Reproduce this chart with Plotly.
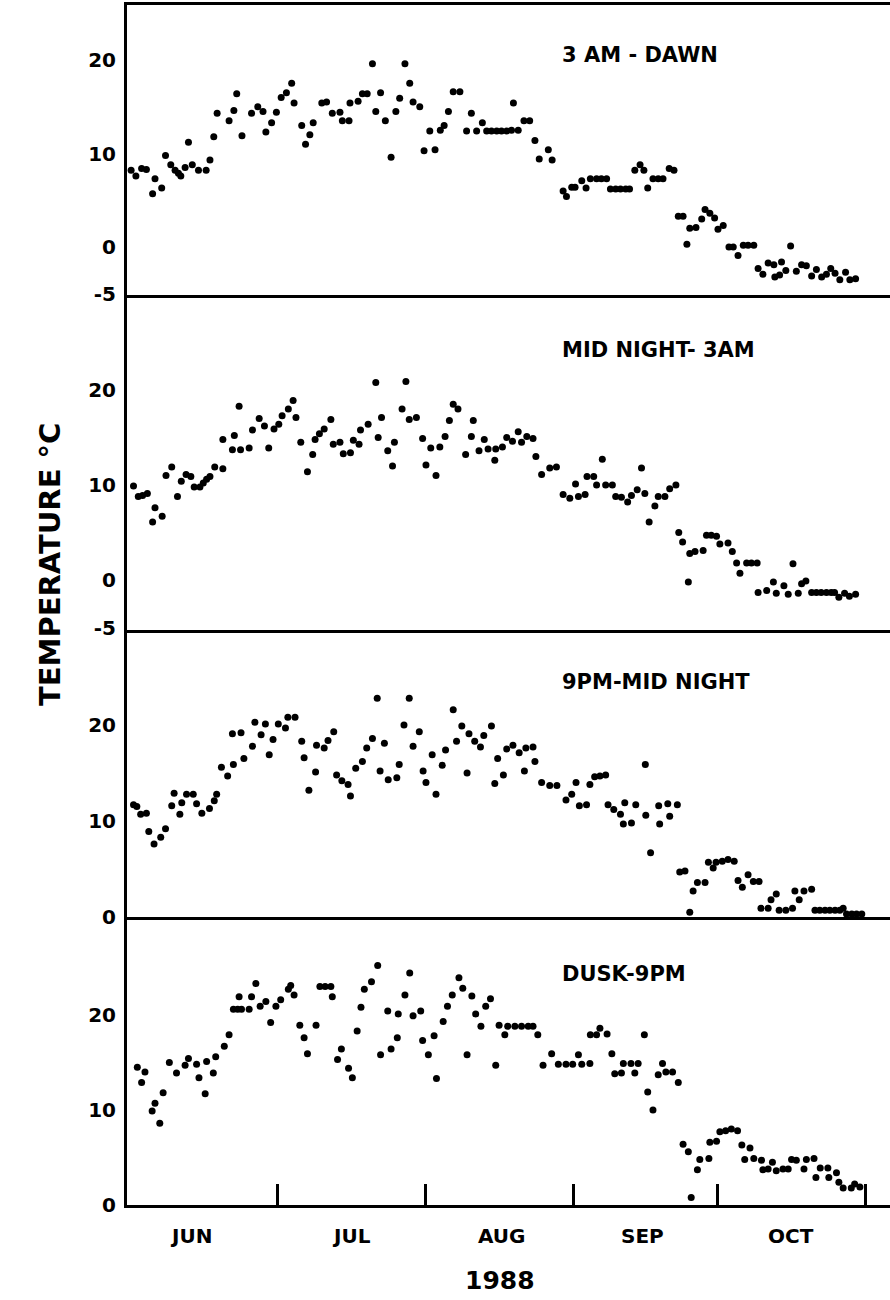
import plotly.graph_objects as go
from plotly.subplots import make_subplots

# ---- data: day = days after 1 June 1988, temp in degrees C ----
p1_day = [-0.6, 0.4, 1.6, 2.6, 3.9, 4.4, 5.8, 6.6, 7.7, 8.6, 9.3, 9.8, 10.7, 11.4, 12.2, 13.5, 15.1, 15.9, 16.7, 17.4,
          19.9, 20.9, 21.5, 22.6, 24.6, 25.9, 27.0, 27.6, 28.8, 29.8, 30.8, 31.9, 33.0, 33.5, 35.1, 35.9, 36.8, 37.5,
          39.3, 40.3, 41.5, 43.1, 43.6, 45.0, 45.2, 46.9, 47.8, 48.8, 49.9, 50.6, 51.6, 52.6, 53.8, 54.8, 55.6, 56.7,
          57.7, 58.4, 59.8, 60.7, 61.9, 63.0, 64.1, 64.9, 65.8, 66.8, 68.2, 69.6, 70.6, 71.7, 72.9, 73.8, 74.8, 75.9,
          76.9, 78.0, 79.0, 79.4, 80.4, 81.6, 82.8, 83.9, 84.8, 86.7, 87.5, 89.8, 90.5, 91.6, 92.3, 93.7, 94.6, 95.5,
          96.8, 97.8, 98.9, 99.7, 100.8, 101.8, 102.9, 103.7, 104.8, 105.9, 106.7, 107.5, 108.6, 109.7, 110.7, 112.0,
          113.0, 113.9, 114.9, 115.7, 116.3, 117.6, 118.8, 119.5, 120.5, 121.5, 122.2, 123.3, 124.5, 125.4, 126.4,
          127.5, 128.5, 129.7, 130.6, 131.6, 132.7, 133.9, 134.1, 135.1, 135.5, 136.4, 137.4, 138.6, 139.7, 140.7,
          141.8, 142.8, 143.9, 144.9, 145.8, 146.7, 147.7, 148.9, 149.8, 151.0]
p1_temp = [8.2, 7.6, 8.4, 8.3, 5.7, 7.3, 6.3, 9.8, 8.8, 8.2, 7.9, 7.6, 8.5, 11.2, 8.8, 8.2, 8.2, 9.3, 11.8, 14.3,
           13.5, 14.6, 16.4, 11.9, 14.3, 15.0, 14.5, 12.3, 13.3, 14.4, 16.0, 16.5, 17.5, 15.4, 13.0, 11.0, 12.0, 13.3,
           15.4, 15.5, 14.3, 14.4, 13.5, 13.5, 15.4, 15.6, 16.4, 16.4, 19.6, 14.5, 16.5, 13.5, 9.6, 14.5, 15.9, 19.6,
           17.5, 15.5, 15.0, 10.3, 12.4, 10.4, 12.5, 13.0, 14.5, 16.6, 16.6, 12.4, 14.3, 12.4, 13.3, 12.4, 12.4, 12.4,
           12.4, 12.4, 12.5, 15.4, 12.5, 13.5, 13.5, 11.4, 9.4, 10.4, 9.3, 6.0, 5.4, 6.4, 6.4, 7.1, 6.3, 7.3,
           7.3, 7.3, 7.3, 6.2, 6.2, 6.2, 6.2, 6.2, 8.2, 8.8, 8.2, 6.3, 7.3, 7.3, 7.3, 8.4,
           8.2, 3.3, 3.3, 0.3, 2.0, 2.1, 3.0, 4.0, 3.6, 3.1, 1.9, 2.3, 0.0, 0.0, -0.9,
           0.2, 0.2, 0.2, -2.3, -2.9, -1.7, -1.9, -3.2, -3.0, -1.6, -2.5, 0.1, -2.6, -1.9, -2.0,
           -3.1, -2.4, -3.2, -2.9, -2.3, -2.8, -3.5, -2.7, -3.5, -3.4]

p2_day = [-0.1, 0.9, 1.8, 2.8, 3.9, 4.4, 5.9, 6.7, 7.9, 9.1, 9.9, 10.9, 11.9, 12.6, 13.8, 14.5, 15.2, 15.9, 16.9, 18.6,
          18.6, 20.6, 21.0, 22.0, 22.3, 24.1, 24.8, 26.2, 27.3, 28.2, 29.3, 30.3, 31.0, 32.3, 33.3, 33.9, 34.9, 36.3,
          37.4, 37.9, 38.8, 39.8, 41.2, 41.7, 43.1, 43.8, 45.3, 45.9, 47.1, 47.4, 49.0, 50.6, 51.1, 51.8, 53.1, 54.1,
          54.5, 56.1, 56.9, 57.6, 59.1, 60.4, 61.1, 62.1, 63.2, 64.0, 65.1, 66.0, 66.8, 67.8, 69.4, 70.6, 71.0, 72.2,
          73.3, 74.1, 75.5, 75.7, 77.1, 78.0, 79.2, 80.4, 81.1, 82.2, 83.5, 84.1, 85.3, 87.0, 88.4, 89.8, 91.2, 92.4,
          93.0, 94.4, 94.8, 96.2, 96.8, 98.0, 98.7, 100.1, 100.8, 102.0, 103.3, 104.1, 105.3, 106.2, 106.9, 107.8,
          109.0, 109.7, 111.1, 112.1, 113.4, 114.0, 114.8, 116.0, 116.3, 117.4, 119.1, 119.8, 120.8, 121.9, 122.6,
          124.3, 125.2, 126.1, 126.8, 128.2, 129.2, 130.4, 130.6, 132.4, 133.8, 134.4, 136.0, 136.9, 137.9, 139.0,
          139.7, 140.6, 141.8, 142.8, 143.8, 144.9, 145.9, 146.6, 147.5, 148.7, 149.7, 151.0]
p2_temp = [9.9, 8.8, 8.9, 9.1, 6.1, 7.6, 6.7, 11.0, 11.9, 8.8, 10.4, 11.1, 10.9, 9.8, 9.8, 10.2, 10.6, 10.9, 11.9, 11.7,
           14.8, 13.7, 15.2, 18.3, 13.7, 13.9, 15.8, 17.0, 16.2, 13.9, 15.9, 16.4, 17.3, 18.0, 18.9, 17.1, 14.5, 11.4,
           13.2, 14.8, 15.4, 15.9, 16.9, 14.3, 14.5, 13.3, 13.4, 14.7, 14.3, 15.8, 16.4, 20.8, 15.0, 17.1, 13.6, 12.0,
           14.5, 18.0, 20.9, 16.9, 17.1, 14.9, 12.1, 13.9, 11.0, 14.0, 15.1, 16.8, 18.5, 18.0, 13.2, 15.1, 16.8, 13.6,
           14.8, 13.8, 12.6, 13.8, 14.0, 15.0, 14.6, 15.6, 14.5, 15.1, 14.9, 13.0, 11.1, 11.8, 11.9, 9.0, 8.6, 10.1,
           8.8, 9.0, 10.9, 10.9, 10.0, 12.7, 10.0, 10.0, 8.8, 8.7, 8.2, 8.9, 9.5, 11.8, 9.1, 6.1,
           7.8, 8.8, 8.8, 9.6, 10.0, 5.0, 4.0, -0.2, 2.8, 3.0, 3.1, 4.7, 4.7, 4.6, 3.8,
           3.9, 3.0, 1.8, 0.7, 1.8, 1.8, 1.8, -1.3, -1.1, -0.2, -1.4, -0.6, -1.5, 1.7, -1.4,
           -0.4, -0.1, -1.3, -1.3, -1.3, -1.3, -1.3, -1.3, -1.8, -1.4, -1.7, -1.5]

p3_day = [-0.1, 0.6, 1.4, 2.6, 3.1, 4.2, 5.6, 6.6, 7.9, 8.4, 9.6, 10.0, 11.0, 12.4, 13.1, 14.2, 15.8, 16.8, 17.3, 18.3,
          19.6, 20.8, 20.6, 22.4, 23.0, 24.8, 25.3, 26.6, 27.5, 28.3, 29.1, 30.2, 31.7, 32.2, 33.7, 35.1, 35.6, 36.6,
          38.0, 38.2, 39.8, 40.6, 41.8, 42.4, 43.5, 44.8, 45.3, 46.4, 47.8, 48.7, 49.9, 50.9, 51.5, 52.4, 53.2, 55.0,
          55.5, 56.5, 57.6, 58.4, 59.7, 60.5, 61.1, 62.4, 63.2, 64.5, 65.2, 66.8, 67.5, 68.6, 69.7, 70.1, 71.3, 72.5,
          73.2, 74.8, 75.5, 76.1, 77.3, 78.0, 79.3, 80.6, 81.7, 82.0, 83.5, 83.9, 85.3, 87.0, 88.5, 90.4, 91.6, 92.5,
          93.2, 94.7, 95.4, 96.4, 97.5, 98.7, 99.2, 100.4, 101.8, 102.4, 102.7, 104.1, 105.0, 107.0, 107.1, 108.1,
          109.8, 110.0, 111.7, 112.1, 113.7, 114.2, 115.3, 116.3, 117.0, 117.9, 119.5, 120.2, 121.2, 121.8, 123.1,
          124.3, 125.6, 126.4, 127.3, 128.5, 129.6, 130.8, 131.2, 132.7, 133.3, 134.4, 135.0, 136.4, 137.8, 138.3,
          139.2, 140.2, 141.8, 142.5, 143.5, 144.6, 145.6, 146.7, 147.7, 148.4, 149.1, 150.2, 151.2, 152.3]
p3_temp = [11.7, 11.5, 10.7, 10.8, 8.9, 7.6, 8.3, 9.2, 11.6, 12.9, 10.7, 11.9, 12.8, 12.8, 11.8, 10.8, 11.3, 12.1, 12.8, 15.6,
           14.7, 15.9, 19.1, 19.2, 16.5, 17.8, 20.3, 19.0, 20.1, 16.9, 18.5, 20.1, 19.7, 20.8, 20.8, 18.3, 16.6, 13.2,
           15.1, 17.9, 17.6, 18.4, 19.3, 14.8, 14.2, 13.8, 12.6, 15.5, 16.2, 17.6, 18.6, 22.8, 15.2, 18.1, 14.3, 14.5,
           15.9, 20.0, 22.8, 17.8, 19.3, 15.2, 14.0, 16.9, 12.8, 15.8, 17.4, 21.6, 18.3, 19.9, 15.0, 19.1, 18.3, 17.7,
           18.9, 19.9, 13.9, 16.5, 14.8, 17.5, 17.9, 17.1, 15.2, 17.6, 17.7, 16.2, 14.0, 13.7, 13.7, 12.2, 12.8, 14.0,
           11.6, 11.7, 13.8, 14.6, 14.7, 14.8, 11.7, 11.2, 10.7, 9.7, 11.9, 9.8, 11.7, 15.9, 10.6, 6.7,
           11.6, 9.7, 11.8, 10.5, 11.7, 4.7, 4.8, 0.5, 2.7, 3.6, 3.6, 5.7, 5.1, 5.7, 5.8,
           6.0, 5.8, 3.8, 3.1, 4.4, 3.7, 3.7, 0.9, 0.9, 1.8, 2.4, 0.7, 0.7, 0.9, 2.7,
           1.8, 2.7, 2.9, 0.7, 0.7, 0.7, 0.7, 0.7, 0.7, 0.9, 0.3, 0.3, 0.3, 0.3]

p4_day = [0.7, 1.6, 2.3, 3.8, 4.4, 5.4, 6.1, 7.4, 8.9, 10.7, 11.4, 13.1, 13.6, 14.9, 15.2, 16.6, 17.1, 18.9, 19.9, 20.8,
          21.7, 22.0, 22.5, 24.1, 24.6, 25.5, 26.4, 27.6, 28.6, 29.7, 30.7, 32.3, 32.8, 33.5, 34.7, 35.6, 36.3, 38.1,
          38.9, 40.0, 41.2, 41.5, 42.6, 43.4, 44.9, 45.7, 46.7, 47.5, 48.2, 49.7, 51.0, 51.6, 53.1, 53.8, 55.1, 55.3,
          56.7, 57.7, 58.4, 60.0, 60.4, 61.6, 62.8, 63.3, 64.7, 65.6, 66.6, 68.0, 68.8, 69.7, 70.7, 71.5, 72.6, 73.6,
          74.6, 75.7, 76.4, 77.6, 78.2, 79.7, 81.1, 82.5, 83.5, 84.5, 85.6, 87.4, 88.8, 90.4, 91.8, 93.0, 93.7, 95.4,
          95.5, 96.8, 97.5, 99.0, 100.0, 100.6, 102.0, 102.4, 104.0, 104.8, 105.5, 106.8, 107.5, 108.6, 109.7, 110.6,
          111.3, 112.7, 113.9, 114.9, 116.0, 116.6, 117.9, 118.4, 120.3, 120.5, 121.9, 122.6, 123.8, 125.0, 126.3,
          127.2, 127.8, 128.9, 129.7, 131.3, 131.6, 132.7, 133.6, 134.4, 135.8, 136.9, 137.6, 138.6, 140.2, 140.7,
          142.3, 142.7, 143.6, 145.2, 145.4, 147.0, 147.5, 148.4, 150.1, 150.8, 151.9]
p4_temp = [14.5, 12.9, 14.0, 9.9, 10.7, 8.6, 11.8, 15.0, 13.9, 14.7, 15.4, 14.8, 13.4, 11.7, 15.1, 13.9, 15.6, 16.7, 17.9, 20.6,
           20.6, 21.9, 20.6, 20.6, 21.9, 23.3, 20.9, 21.4, 19.2, 20.9, 21.6, 22.7, 23.1, 22.1, 18.9, 17.6, 15.9, 18.9,
           23.0, 23.0, 23.0, 21.9, 15.3, 16.4, 14.4, 13.4, 18.3, 20.8, 22.7, 23.5, 25.2, 15.8, 20.4, 16.4, 17.6, 20.1,
           22.1, 24.4, 19.9, 20.4, 17.3, 15.8, 17.8, 13.3, 19.3, 20.9, 22.1, 23.9, 22.8, 15.8, 22.0, 20.1, 18.8, 20.9,
           21.7, 14.7, 18.9, 17.9, 18.8, 18.8, 18.8, 18.8, 18.8, 17.9, 14.7, 15.9, 14.8, 14.8, 14.8, 15.8, 14.8, 14.9,
           17.9, 17.9, 18.6, 18.0, 15.9, 13.8, 13.9, 14.9, 14.9, 13.9, 14.9, 17.9, 11.9, 10.0, 13.7, 14.9,
           14.0, 14.0, 12.9, 6.4, 5.6, 0.8, 3.7, 4.8, 4.9, 6.6, 6.7, 7.7, 7.8, 8.0, 7.8,
           6.3, 4.8, 6.0, 4.9, 4.7, 3.7, 3.8, 4.5, 3.6, 3.8, 3.8, 4.8, 4.7, 3.8, 4.8,
           4.9, 2.9, 3.9, 3.9, 2.9, 3.4, 2.4, 1.8, 1.8, 2.2, 1.9]

panel_titles = ["3 AM - DAWN", "MID NIGHT- 3AM", "9PM-MID NIGHT", "DUSK-9PM"]
month_names = ["JUN", "JUL", "AUG", "SEP", "OCT"]
month_label_days = [12.0, 45.5, 77.0, 106.5, 137.5]
month_start_days = [30, 61, 92, 122, 153]
year_label = "1988"
y_title = "TEMPERATURE °C"
panel_ticks = [[-5, 0, 10, 20], [-5, 0, 10, 20], [0, 10, 20], [0, 10, 20]]

# ---- layout geometry ----
FONT = "DejaVu Sans"
W, H = 890, 1300
ML, MR, MT, MB = 127, 0, 5, 95
panel_px = [290, 335, 287, 288]
y_ranges = [[-5.13, 25.88], [-5.26, 30.0], [0.0, 29.9], [0.0, 30.3]]
x_range = [-1.46, 158.2]

fig = make_subplots(rows=4, cols=1, shared_xaxes=True, vertical_spacing=0,
                    row_heights=panel_px)

series = [(p1_day, p1_temp), (p2_day, p2_temp), (p3_day, p3_temp), (p4_day, p4_temp)]
for i, (d, t) in enumerate(series, start=1):
    fig.add_trace(go.Scatter(x=d, y=t, mode="markers",
                             marker=dict(size=7, color="black", line=dict(width=0)),
                             cliponaxis=False, showlegend=False, hoverinfo="x+y"),
                  row=i, col=1)
    fig.update_yaxes(range=y_ranges[i - 1], tickvals=panel_ticks[i - 1],
                     ticktext=[str(v) for v in panel_ticks[i - 1]],
                     showline=True, linewidth=3, linecolor="black", ticks="",
                     showgrid=False, zeroline=False, ticklabelstandoff=4,
                     tickfont=dict(family=FONT, size=20, color="black", weight="bold"),
                     row=i, col=1)
    fig.update_xaxes(range=x_range, showline=True, linewidth=3, linecolor="black",
                     showgrid=False, zeroline=False, ticks="", showticklabels=False,
                     row=i, col=1)

fig.update_xaxes(mirror=True, row=1, col=1)
fig.update_xaxes(ticks="inside", tickvals=month_start_days, ticklen=21, tickwidth=2.5,
                 tickcolor="black", row=4, col=1)

plot_h = H - MT - MB
plot_w = W - ML - MR

def py(pix):
    return (H - MB - pix) / plot_h

def px(pix):
    return (pix - ML) / plot_w

annotations = []
title_y_px = [55, 350, 682, 974]
for title, ypix in zip(panel_titles, title_y_px):
    annotations.append(dict(text=title, x=px(560), y=py(ypix), xref="paper", yref="paper",
                            xanchor="left", yanchor="middle", showarrow=False,
                            font=dict(family=FONT, size=21, color="black", weight="bold")))
for name, dd in zip(month_names, month_label_days):
    annotations.append(dict(text=name, x=dd, y=py(1236), xref="x4", yref="paper",
                            xanchor="center", yanchor="middle", showarrow=False,
                            font=dict(family=FONT, size=20, color="black", weight="bold")))
annotations.append(dict(text=year_label, x=76.5, y=py(1280), xref="x4", yref="paper",
                        xanchor="center", yanchor="middle", showarrow=False,
                        font=dict(family=FONT, size=25, color="black", weight="bold")))
annotations.append(dict(text=y_title, x=px(50), y=py(565), xref="paper", yref="paper",
                        xanchor="center", yanchor="middle", showarrow=False, textangle=-90,
                        font=dict(family=FONT, size=29, color="black", weight="bold")))

fig.update_layout(width=W, height=H, margin=dict(l=ML, r=MR, t=MT, b=MB, autoexpand=False),
                  paper_bgcolor="white", plot_bgcolor="white",
                  font=dict(family=FONT, color="black"),
                  annotations=annotations, showlegend=False)

fig.write_html("out.html", config={"displayModeBar": False},
               post_script="document.body.style.margin='0';")
